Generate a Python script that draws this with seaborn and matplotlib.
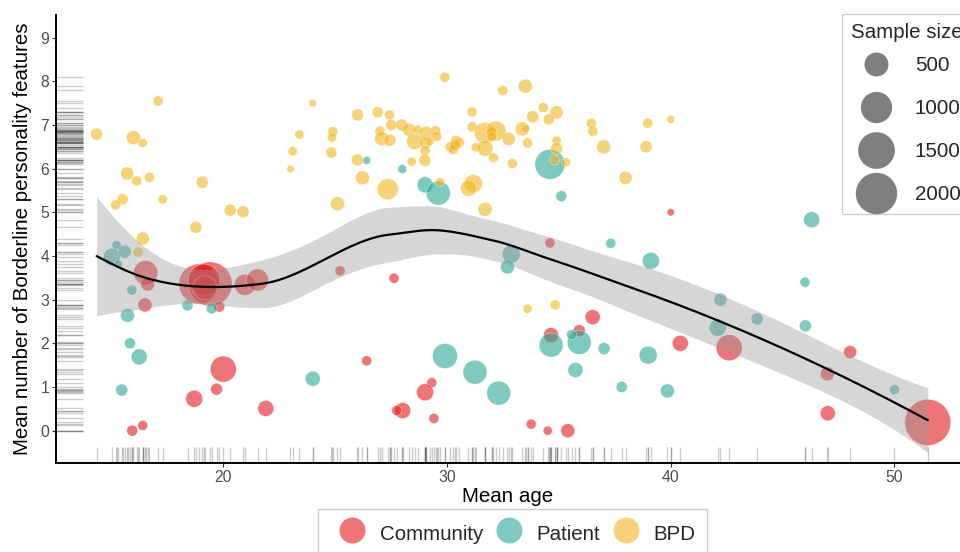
import numpy as np
import pandas as pd
import seaborn as sns
import matplotlib.pyplot as plt
from matplotlib.lines import Line2D

sns.set_style('white')
plt.rcParams['font.family'] = ['Liberation Sans', 'DejaVu Sans']

# data: mean age, mean BPD features, sample size
community_age = [16.53, 16.62, 16.50, 15.93, 16.40, 18.70, 19.70, 20.00, 21.90,
                 18.91, 19.41, 19.14, 19.18, 20.97, 21.53, 19.82, 25.22, 27.63,
                 26.41, 29.32, 29.02, 28.02, 27.75, 29.41, 33.76, 34.50, 35.40,
                 36.51, 34.65, 35.91, 34.60, 40.00, 40.43, 42.61, 48.02, 47.00,
                 47.02, 51.49]
community_bpf = [3.62, 3.36, 2.88, 0.00, 0.12, 0.73, 0.95, 1.41, 0.51,
                 3.36, 3.36, 3.45, 3.27, 3.34, 3.45, 2.84, 3.66, 3.49,
                 1.60, 1.10, 0.88, 0.46, 0.46, 0.28, 0.15, 0.00, 0.00,
                 2.60, 2.19, 2.29, 4.30, 5.00, 2.00, 1.90, 1.80, 1.30,
                 0.40, 0.19]
community_n = [500, 90, 90, 32, 19, 179, 48, 622, 146,
               1843, 2311, 1066, 500, 343, 392, 32, 19, 19,
               19, 19, 179, 146, 19, 19, 19, 10, 90,
               117, 117, 48, 19, 1, 146, 622, 68, 90,
               117, 2565]

patient_age = [15.02, 15.23, 15.59, 15.31, 15.91, 15.72, 15.83, 16.24, 15.46,
               18.40, 19.48, 24.00, 26.41, 28.00, 29.02, 29.61, 29.91, 31.25,
               32.31, 32.87, 32.70, 34.60, 35.11, 34.65, 35.91, 35.57, 37.02,
               35.74, 37.81, 37.32, 39.11, 38.99, 39.85, 42.22, 42.10, 43.86,
               46.02, 46.00, 46.30, 50.00]
patient_bpf = [3.98, 4.25, 4.10, 3.82, 3.22, 2.64, 2.00, 1.69, 0.93,
               2.87, 2.80, 1.19, 6.19, 5.99, 5.63, 5.44, 1.71, 1.34,
               0.86, 4.04, 3.75, 6.10, 5.37, 1.96, 2.02, 2.20, 1.88,
               1.39, 1.00, 4.29, 3.89, 1.73, 0.91, 3.00, 2.36, 2.56,
               2.40, 3.40, 4.83, 0.94]
patient_n = [179, 10, 68, 3, 19, 90, 32, 146, 48,
             32, 32, 117, 3, 10, 146, 500, 559, 500,
             500, 215, 90, 905, 32, 500, 500, 19, 48,
             117, 32, 19, 179, 215, 90, 68, 179, 48,
             48, 19, 146, 19]

bpd_age = [14.34, 15.98, 16.40, 17.09, 15.70, 16.13, 16.70, 15.50, 15.19, 17.29,
           19.06, 18.77, 20.31, 20.88, 16.40, 16.20, 24.00, 23.00, 23.10, 23.40,
           26.00, 26.90, 27.43, 24.89, 24.86, 24.83, 27.51, 27.00, 27.08, 27.45,
           27.98, 28.31, 28.69, 28.55, 29.07, 29.49, 29.54, 29.04, 29.24, 29.02,
           29.01, 28.42, 29.90, 25.99, 26.22, 27.35, 25.10, 29.69, 31.18, 30.96,
           31.70, 30.13, 30.40, 30.55, 30.28, 30.36, 31.12, 31.12, 31.69, 32.19,
           32.00, 32.00, 31.28, 31.70, 32.07, 32.76, 33.36, 33.51, 33.60, 32.92,
           32.49, 33.50, 33.83, 34.30, 34.90, 34.55, 34.90, 34.90, 34.81, 35.32,
           36.45, 36.52, 37.00, 37.98, 38.97, 40.00, 38.90, 33.60, 34.84]
bpd_bpf = [6.79, 6.71, 6.59, 7.55, 5.89, 5.72, 5.80, 5.30, 5.17, 5.30,
           5.69, 4.66, 5.05, 5.01, 4.40, 4.09, 7.50, 5.99, 6.40, 6.78,
           7.23, 7.29, 7.23, 6.85, 6.71, 6.37, 7.00, 6.86, 6.69, 6.65,
           7.00, 6.89, 6.89, 6.62, 6.81, 6.87, 6.74, 6.59, 6.62, 6.41,
           6.19, 6.16, 8.09, 6.20, 5.79, 5.53, 5.20, 5.69, 5.66, 5.55,
           5.07, 6.50, 6.65, 6.60, 6.44, 6.54, 7.30, 6.96, 6.82, 6.86,
           6.85, 6.73, 6.49, 6.47, 6.25, 6.68, 6.91, 6.92, 6.59, 6.12,
           7.79, 7.89, 7.19, 7.40, 7.29, 7.13, 6.64, 6.46, 6.20, 6.15,
           7.04, 6.86, 6.50, 5.79, 7.04, 7.13, 6.50, 2.79, 2.88]
bpd_n = [48, 90, 10, 19, 68, 19, 19, 32, 19, 10,
         48, 48, 48, 48, 68, 19, 1, 1, 10, 10,
         48, 32, 19, 19, 10, 32, 32, 19, 90, 48,
         48, 68, 10, 146, 90, 19, 19, 48, 3, 19,
         48, 10, 19, 48, 90, 343, 90, 10, 215, 146,
         90, 19, 19, 19, 19, 32, 19, 19, 343, 297,
         19, 19, 10, 146, 19, 68, 90, 3, 19, 19,
         19, 90, 48, 19, 68, 32, 10, 48, 19, 10,
         19, 19, 90, 68, 19, 3, 48, 10, 19]

groups = ['Community', 'Patient', 'BPD']
colors = ['#E41A1C', '#2AA796', '#F0B41E']
legend_sizes = [500, 1000, 1500, 2000]

df = pd.concat([
    pd.DataFrame({'age': community_age, 'bpf': community_bpf, 'n': community_n, 'group': 'Community'}),
    pd.DataFrame({'age': patient_age, 'bpf': patient_bpf, 'n': patient_n, 'group': 'Patient'}),
    pd.DataFrame({'age': bpd_age, 'bpf': bpd_bpf, 'n': bpd_n, 'group': 'BPD'}),
], ignore_index=True)


def marker_area(n):
    # radius grows with sqrt(n), like ggplot's area scale
    r_px = 3.3 + 0.389 * np.sqrt(n)
    return (2 * r_px * 0.72) ** 2


def loess(x, y, w, grid, span=0.75, cell=0.2):
    # weighted local quadratic fit, evaluated at kd-tree vertices and
    # joined with cubic hermite pieces (what R's loess does by default)
    n = len(x)
    q = int(np.floor(n * span))
    fc = int(np.floor(n * span * cell))

    def rows(x0):
        d = np.abs(x - x0)
        h = np.sort(d)[q - 1]
        u = np.clip(d / h, 0, 1)
        k = (1 - u ** 3) ** 3 * w
        X = np.column_stack([np.ones(n), x - x0, (x - x0) ** 2])
        XtW = X.T * k
        sol = np.linalg.solve(XtW @ X, XtW)
        return sol[0], sol[1]

    xs = np.sort(x)
    mu = 0.005 * (xs[-1] - xs[0])

    def split(i0, i1, a, b):
        if i1 - i0 + 1 <= fc:
            return [a, b]
        m = (i0 + i1) // 2
        v = (xs[m] + xs[m + 1]) / 2
        return split(i0, m, a, v) + split(m + 1, i1, v, b)

    verts = np.unique(split(0, n - 1, xs[0] - mu, xs[-1] + mu))
    V, S = zip(*[rows(v) for v in verts])
    V, S = np.array(V), np.array(S)

    def interp(pts):
        out = []
        for p in pts:
            j = min(max(np.searchsorted(verts, p) - 1, 0), len(verts) - 2)
            a, b = verts[j], verts[j + 1]
            hh = b - a
            t = (p - a) / hh
            h00 = 2 * t ** 3 - 3 * t ** 2 + 1
            h10 = t ** 3 - 2 * t ** 2 + t
            h01 = -2 * t ** 3 + 3 * t ** 2
            h11 = t ** 3 - t ** 2
            out.append(h00 * V[j] + h10 * hh * S[j] + h01 * V[j + 1] + h11 * hh * S[j + 1])
        return np.array(out)

    L_grid = interp(grid)
    L_data = interp(x)
    resid = y - L_data @ y
    M = np.eye(n) - L_data
    MtM = M.T @ M
    d1 = np.trace(MtM)
    d2 = np.trace(MtM @ MtM)
    sigma = np.sqrt(np.sum(w * resid ** 2) / d1)
    se = sigma * np.sqrt(np.sum(L_grid ** 2 / w, axis=1))
    tq = 1.975 if d1 ** 2 / d2 > 100 else 1.99
    fit = L_grid @ y
    return fit, fit - tq * se, fit + tq * se


fig = plt.figure(figsize=(9.6, 5.52), dpi=100)
ax = fig.add_axes([0.0583, 0.1618, 0.9417, 0.8116])

sns.rugplot(data=df, y='bpf', height=0.03, color='black', alpha=0.2, lw=0.8, ax=ax)
sns.rugplot(data=df, x='age', height=0.036, color='black', alpha=0.2, lw=0.8, ax=ax)

size_map = {v: marker_area(v) for v in df['n'].unique()}
sns.scatterplot(data=df, x='age', y='bpf', hue='group', hue_order=groups,
                palette=colors, size='n', sizes=size_map, alpha=0.6,
                edgecolor='white', linewidth=0.4, legend=False, ax=ax)

xa = df['age'].to_numpy(float)
ya = df['bpf'].to_numpy(float)
wa = df['n'].to_numpy(float)
grid = np.linspace(xa.min(), xa.max(), 200)
fit, lo, hi = loess(xa, ya, wa, grid)
ax.fill_between(grid, lo, hi, color='#999999', alpha=0.4, lw=0)
ax.plot(grid, fit, color='black', lw=1.6)

ax.set_xlim(12.52, 52.93)
ax.set_ylim(-0.733, 9.526)
ax.set_xticks([20, 30, 40, 50])
ax.set_yticks(range(10))
ax.set_xlabel('Mean age', fontsize=14.8, color='black', labelpad=2)
ax.set_ylabel('Mean number of Borderline personality features', fontsize=14.8,
              color='black', labelpad=6)
ax.tick_params(axis='both', labelsize=11.3, labelcolor='#4D4D4D', length=3,
               width=0.8, color='#333333', left=True, bottom=True, pad=2)
for side in ['top', 'right']:
    ax.spines[side].set_visible(False)
for side in ['left', 'bottom']:
    ax.spines[side].set_color('black')
    ax.spines[side].set_linewidth(1.4)

# sample size legend (top right, runs off the edge as in the original)
size_handles = [Line2D([], [], marker='o', ls='', color='#7f7f7f', markeredgewidth=0,
                       markersize=np.sqrt(marker_area(v))) for v in legend_sizes]
leg1 = fig.legend(size_handles, [str(v) for v in legend_sizes], title='Sample size',
                  loc='upper left', bbox_to_anchor=(842 / 960, 1 - 14 / 552),
                  borderaxespad=0, fontsize=14.8, title_fontsize=14.8, frameon=True,
                  fancybox=False, edgecolor='#cccccc', framealpha=1,
                  handletextpad=0.7, labelspacing=1.17, borderpad=0.45,
                  handlelength=2.4)
leg1._legend_box.align = 'left'
leg1._legend_box.sep = 10  # tighter gap under the title

# group legend at the bottom
group_handles = [Line2D([], [], marker='o', ls='', color=c, alpha=0.6, markeredgewidth=0,
                        markersize=18.7) for c in colors]
fig.legend(group_handles, groups, loc='upper left', ncol=3,
           bbox_to_anchor=(318 / 960, 1 - 509 / 552), borderaxespad=0,
           fontsize=14.8, frameon=True, fancybox=False, edgecolor='#cccccc',
           framealpha=1, handletextpad=0.25, columnspacing=0.15, borderpad=0.55,
           handlelength=2.2, handleheight=1.6)

fig.savefig('out.png', dpi=100)
